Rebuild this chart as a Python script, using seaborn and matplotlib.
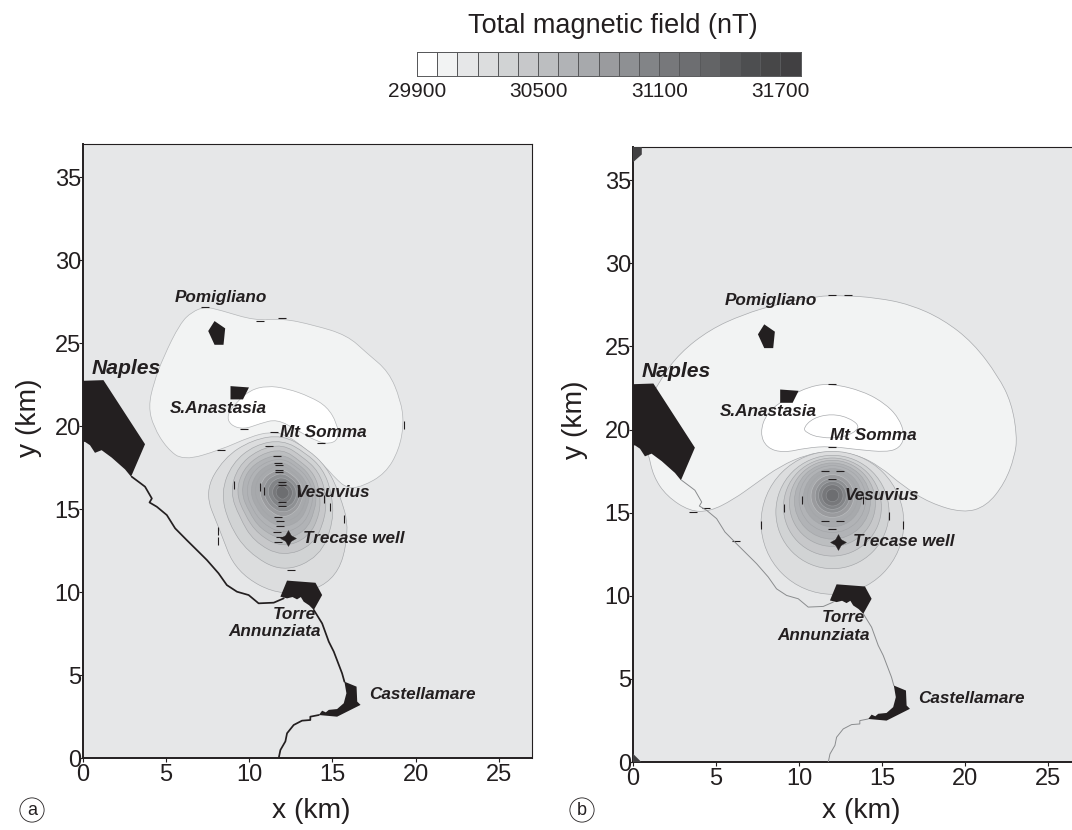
import numpy as np
import matplotlib
matplotlib.use("Agg")
import matplotlib.pyplot as plt
from matplotlib.colors import ListedColormap
from matplotlib.patches import Circle, PathPatch, Polygon
from matplotlib.path import Path
import seaborn as sns

# legend
field_ticks = ["29900", "30500", "31100", "31700"]
field_grays = ["#ffffff", "#f2f3f3", "#e6e7e8", "#dcddde", "#d1d3d4", "#c7c8ca", "#bcbec0",
               "#b1b3b6", "#a7a9ac", "#9a9b9e", "#8e9093", "#828487", "#77787b", "#6d6e71",
               "#636466", "#58595b", "#4d4e50", "#474748", "#414042"]
# legend class of each ring, outermost first
ring_class = [3, 4, 5, 6, 7, 7, 8, 8, 9, 10, 11, 12, 13]

# cities and coast, km
naples = [(0, 22.73), (1.23, 22.77), (3.73, 18.91), (2.89, 16.95), (2.53, 17.39), (1.73, 18.1),
          (1.12, 18.55), (0.72, 18.39), (0.42, 18.85), (0.12, 19.05), (0, 19.05)]
pomigliano = [(7.91, 26.33), (8.55, 25.89), (8.45, 24.9), (7.91, 24.9), (7.53, 25.73)]
anastasia = [(8.87, 22.41), (9.98, 22.33), (9.62, 21.61), (8.87, 21.61)]
torre = [(12.27, 10.69), (13.98, 10.56), (14.38, 9.82), (13.88, 8.92), (13.6, 9.2), (13.27, 9.42), (13.1, 9.7),
         (12.87, 9.56), (12.6, 9.7), (12.27, 9.62), (11.87, 9.72)]
castellamare = [(15.72, 4.6), (16.45, 4.3), (16.49, 3.4), (16.69, 3.2), (15.28, 2.49), (14.18, 2.59),
                (14.38, 2.85), (14.6, 2.75), (14.78, 2.9), (15.28, 2.95), (15.68, 3.3), (15.84, 3.9)]
coast_north_x = [2.93, 3.4, 3.73, 4.14, 4.0, 4.44, 5.04, 5.54, 6.24, 7.25, 7.45, 8.15, 8.65, 9.26, 9.96, 10.56, 11.47, 12.07]
coast_north_y = [16.95, 16.6, 16.35, 15.64, 15.4, 15.14, 14.64, 13.84, 13.13, 12.13, 11.93, 11.13, 10.42, 10.02, 9.82, 9.32, 9.36, 9.62]
coast_mid_x = [13.88, 14.38, 14.78, 15.08, 15.58, 15.72]
coast_mid_y = [8.92, 8.11, 7.01, 6.41, 5.1, 4.6]
coast_south_x = [14.18, 13.67, 13.67, 13.17, 12.67, 12.27, 12.17, 11.87, 11.77]
coast_south_y = [2.59, 2.49, 2.29, 2.25, 1.99, 1.49, 1.0, 0.48, 0.0]

# place labels: text, x, y, size
place_names = ["Pomigliano", "Naples", "S.Anastasia", "Mt Somma", "Vesuvius", "Trecase well",
               "Torre", "Annunziata", "Castellamare"]
place_x = [8.3, 2.6, 8.13, 14.46, 15.0, 16.3, 12.7, 11.5, 20.42]
place_y = [27.77, 23.5, 21.08, 19.64, 16.02, 13.25, 8.67, 7.6, 3.8]
place_size = [12.3, 15.2, 12.3, 12.3, 12.3, 12.3, 12.3, 12.3, 12.3]
well_x = [12.35]
well_y = [13.25]
tick_x = [0, 5, 10, 15, 20, 25]
tick_y = [0, 5, 10, 15, 20, 25, 30, 35]

# panel a contours
crescent_a = [(7.35, 27.19), (8.25, 26.99), (10.36, 26.35), (11.97, 26.49), (13.87, 26.09), (15.88, 25.48),
              (17.09, 24.38), (18.39, 23.28), (19.1, 21.57), (19.3, 20.16), (19.0, 18.56), (18.19, 17.15),
              (16.79, 16.35), (15.88, 16.25), (15.18, 16.85), (14.58, 17.55), (13.47, 18.56), (12.27, 19.46),
              (11.26, 19.66), (10.06, 19.36), (8.25, 18.56), (6.04, 17.91), (5.04, 18.66), (4.24, 19.96),
              (3.94, 21.17), (4.24, 22.57), (4.84, 24.18), (5.84, 26.19), (6.55, 26.89)]
white_a = [(11.06, 22.43), (12.27, 22.27), (13.67, 21.77), (14.68, 21.17), (15.28, 20.16), (15.38, 19.26),
           (14.88, 18.92), (14.08, 19.06), (12.87, 19.76), (11.67, 20.42), (10.66, 20.16), (9.66, 19.8),
           (8.85, 20.06), (8.65, 20.67), (9.26, 21.47), (10.06, 22.17)]
vent_a = (12.0, 16.02)
ring_angles_a = [0, 30, 60, 90, 120, 150, 180, 210, 240, 270, 300, 330]
ring_radii_a = [
    [3.4, 3.05, 3.0, 3.45, 3.65, 4.1, 4.7, 4.4, 5.6, 6.35, 6.35, 4.7],
    [2.95, 2.8, 2.75, 3.15, 3.3, 3.5, 3.7, 3.75, 4.2, 4.85, 4.5, 3.55],
    [2.6, 2.5, 2.45, 2.9, 2.95, 3.1, 3.15, 3.0, 3.45, 3.9, 3.7, 3.0],
    [2.25, 2.2, 2.15, 2.6, 2.65, 2.75, 2.8, 2.65, 2.95, 3.35, 3.15, 2.6],
    [2.05, 1.95, 1.95, 2.3, 2.35, 2.5, 2.5, 2.35, 2.6, 2.9, 2.75, 2.25],
    [1.85, 1.75, 1.75, 2.05, 2.1, 2.2, 2.2, 2.1, 2.25, 2.5, 2.35, 2.0],
    [1.65, 1.55, 1.55, 1.85, 1.9, 1.95, 1.95, 1.85, 1.95, 2.15, 2.05, 1.75],
    [1.45, 1.35, 1.35, 1.65, 1.65, 1.7, 1.7, 1.6, 1.7, 1.85, 1.75, 1.55],
    [1.25, 1.2, 1.2, 1.4, 1.4, 1.45, 1.4, 1.35, 1.4, 1.55, 1.45, 1.3],
    [1.05, 1.0, 1.0, 1.15, 1.15, 1.2, 1.15, 1.1, 1.15, 1.25, 1.2, 1.1],
    [0.85, 0.8, 0.8, 0.9, 0.9, 0.9, 0.9, 0.85, 0.9, 1.0, 0.95, 0.9],
    [0.62, 0.58, 0.58, 0.62, 0.62, 0.62, 0.62, 0.62, 0.62, 0.72, 0.68, 0.62],
    [0.4, 0.35, 0.35, 0.4, 0.4, 0.4, 0.4, 0.4, 0.4, 0.45, 0.4, 0.4],
]
dash_h_a = [(11.51, 19.66), (11.21, 18.79), (11.67, 18.19), (11.73, 17.79), (11.77, 17.65), (11.81, 17.35),
            (11.81, 17.21), (11.97, 16.64), (11.97, 16.44), (11.97, 15.44), (11.97, 15.18), (11.71, 14.54),
            (11.83, 14.28), (11.87, 13.97), (11.67, 13.63), (11.83, 13.33), (11.71, 13.03), (12.51, 11.32),
            (9.66, 19.8), (8.29, 18.59), (14.32, 19.0), (7.35, 27.2), (10.62, 26.35), (11.97, 26.49)]
dash_v_a = [(9.06, 16.48), (10.66, 16.34), (10.9, 16.08), (12.93, 15.94), (14.52, 15.58), (14.86, 15.1),
            (15.7, 14.42), (8.11, 13.67), (8.09, 13.09), (19.3, 20.06)]

# panel b contours
crescent_b = [(0.92, 18.6), (1.22, 17.19), (2.03, 15.99), (3.43, 15.08), (4.64, 15.08), (6.04, 15.78),
              (7.45, 16.79), (8.85, 17.79), (10.46, 18.5), (11.87, 18.7), (13.47, 18.5), (14.88, 17.79),
              (16.29, 16.59), (17.89, 15.58), (19.9, 14.98), (21.3, 15.38), (22.41, 16.79), (23.01, 18.4),
              (23.15, 19.6), (22.81, 21.61), (22.01, 23.21), (20.5, 25.22), (18.69, 26.63), (16.69, 27.53),
              (14.68, 27.93), (12.67, 28.07), (11.06, 28.03), (8.65, 27.53), (6.65, 26.93), (4.64, 26.02),
              (2.83, 24.62), (1.63, 23.01), (0.62, 21.0), (0.52, 19.6)]
white_b = [(11.97, 22.77), (13.88, 22.31), (15.28, 21.51), (16.08, 20.6), (16.38, 19.6), (16.08, 18.9),
           (15.28, 18.64), (13.47, 18.8), (11.87, 19.0), (10.46, 18.9), (9.06, 18.6), (8.05, 18.9),
           (7.65, 19.8), (8.05, 21.0), (9.26, 21.91), (10.66, 22.61)]
core_b = [(11.97, 20.95), (13.07, 20.7), (13.77, 20.1), (12.67, 19.5), (11.26, 19.5), (10.46, 19.8),
          (10.26, 20.1), (10.86, 20.7)]
ring_x_b = 12.02
ring_y_b = [14.39, 15.04, 15.34, 15.56, 15.70, 15.82, 15.90, 15.96, 16.0, 16.02, 16.04, 16.04, 16.04]
ring_r_b = [4.3, 3.41, 2.95, 2.59, 2.29, 2.01, 1.75, 1.51, 1.29, 1.04, 0.84, 0.64, 0.38]
corner_low_b = [(0, 0), (0.5, 0), (0, 0.5)]
corner_top_b = [(0, 37), (0.53, 37), (0.53, 36.55), (0, 36.08)]
dash_h_b = [(11.97, 28.07), (12.97, 28.07), (11.97, 22.77), (11.97, 18.96), (3.6, 15.04), (4.4, 15.26), (6.2, 13.32),
            (11.6, 17.5), (12.5, 17.5), (11.6, 14.5), (12.5, 14.5), (12.0, 17.0), (12.0, 14.0)]
dash_v_b = [(7.71, 14.28), (16.3, 14.28), (9.08, 15.28), (15.44, 14.78), (10.2, 15.78), (13.85, 15.78)]


def smooth_patch(points, **kwargs):
    # closed quadratic path, the read points act as control points
    pts = np.array(points + [points[0]], dtype=float)
    mids = (pts[:-1] + pts[1:]) / 2
    verts = [mids[-1]]
    codes = [Path.MOVETO]
    for i in range(len(mids)):
        verts += [pts[i], mids[i]]
        codes += [Path.CURVE3, Path.CURVE3]
    return PathPatch(Path(verts, codes), **kwargs)


def ring_colors(i):
    # outer rings have a gray outline, the inner ones a lighter one
    k = ring_class[i]
    line = "#a3a5a8" if k <= 8 else field_grays[k - 3]
    return field_grays[k], line


def draw_places(ax, coast_color, coast_width):
    for poly in [pomigliano, anastasia, naples, torre, castellamare]:
        ax.add_patch(Polygon(poly, closed=True, fc="#231f20", ec="none", zorder=6))
    for xs, ys in [(coast_north_x, coast_north_y), (coast_mid_x, coast_mid_y), (coast_south_x, coast_south_y)]:
        sns.lineplot(x=xs, y=ys, ax=ax, sort=False, estimator=None, color=coast_color,
                     linewidth=coast_width, zorder=5)
    sns.scatterplot(x=well_x, y=well_y, ax=ax, marker=(4, 1, 0), s=130, color="#231f20", linewidth=0.3,
                    edgecolor="#231f20", zorder=7)
    sns.scatterplot(x=well_x, y=well_y, ax=ax, marker="o", s=30, color="#231f20", linewidth=0, zorder=7)
    for name, x, y, size in zip(place_names, place_x, place_y, place_size):
        ax.text(x, y, name, fontsize=size, fontweight="bold", fontstyle="italic", color="#231f20",
                ha="center", va="center", zorder=8)


def draw_dashes(ax, dash_h, dash_v):
    ax.plot(*zip(*dash_h), ls="none", marker="_", ms=6, mew=0.8, color="#231f20", zorder=4)
    ax.plot(*zip(*dash_v), ls="none", marker="|", ms=6, mew=0.8, color="#231f20", zorder=4)


def style_axes(ax, xlabel_xy, ylabel_xy):
    ax.set_xlim(0, 27)
    ax.set_ylim(0, 37)
    ax.set_facecolor(field_grays[2])
    ax.set_xticks(tick_x)
    ax.set_yticks(tick_y)
    ax.tick_params(axis="both", length=3, width=0.8, labelsize=17, color="#231f20", labelcolor="#231f20")
    ax.tick_params(axis="y", pad=-1.5)
    ax.tick_params(axis="x", pad=1.5)
    ax.set_xlabel("x (km)", fontsize=20.3, color="#231f20", va="center")
    ax.set_ylabel("y (km)", fontsize=20.3, color="#231f20", va="center")
    ax.xaxis.set_label_coords(*xlabel_xy)
    ax.yaxis.set_label_coords(*ylabel_xy)
    for side, width in [("left", 1.4), ("bottom", 1.4), ("top", 0.8), ("right", 0.8)]:
        ax.spines[side].set_linewidth(width)
        ax.spines[side].set_color("#231f20")


sns.set_theme(style="ticks")
plt.rcParams["font.family"] = ["Liberation Sans", "DejaVu Sans"]

W, H = 1072, 830
fig = plt.figure(figsize=(W / 100, H / 100), dpi=100, facecolor="white")

# colour key
ax_key = fig.add_axes([417 / W, 1 - 76 / H, 383.5 / W, 24 / H])
sns.heatmap(np.arange(len(field_grays)).reshape(1, -1), ax=ax_key, cbar=False, cmap=ListedColormap(field_grays),
            linewidths=0.7, linecolor="#58595b", xticklabels=False, yticklabels=False)
ax_key.set_xticks([0, 6, 12, 18])
ax_key.set_xticklabels(field_ticks, fontsize=15, color="#231f20", rotation=0)
ax_key.tick_params(axis="x", length=0, pad=4)
ax_key.set_title("Total magnetic field (nT)", fontsize=19.5, color="#231f20", pad=14, x=0.51)
for spine in ax_key.spines.values():
    spine.set_visible(True)
    spine.set_linewidth(0.7)
    spine.set_color("#58595b")

# panel a
ax_a = fig.add_axes([83 / W, 1 - 758 / H, 449 / W, 614 / H])
ax_a.add_patch(smooth_patch(crescent_a, fc=field_grays[1], ec="#b5b7b9", lw=0.5, zorder=1))
ax_a.add_patch(smooth_patch(white_a, fc=field_grays[0], ec="#b5b7b9", lw=0.5, zorder=2))
for i, radii in enumerate(ring_radii_a):
    pts = [(vent_a[0] + r * np.cos(np.radians(a)), vent_a[1] + r * np.sin(np.radians(a)))
           for a, r in zip(ring_angles_a, radii)]
    fill, line = ring_colors(i)
    ax_a.add_patch(smooth_patch(pts, fc=fill, ec=line, lw=0.45, zorder=3))
draw_dashes(ax_a, dash_h_a, dash_v_a)
draw_places(ax_a, "#231f20", 1.25)
style_axes(ax_a, (0.508, -0.086), (-0.121, 0.554))

# panel b, right edge runs past the picture
ax_b = fig.add_axes([633 / W, 1 - 762 / H, 448 / W, 615 / H])
ax_b.add_patch(smooth_patch(crescent_b, fc=field_grays[1], ec="#a9abae", lw=0.5, zorder=1))
ax_b.add_patch(smooth_patch(white_b, fc=field_grays[0], ec="#a9abae", lw=0.5, zorder=2))
ax_b.add_patch(smooth_patch(core_b, fc=field_grays[0], ec="#a9abae", lw=0.5, zorder=2))
for i, (yc, r) in enumerate(zip(ring_y_b, ring_r_b)):
    fill, line = ring_colors(i)
    ax_b.add_patch(Circle((ring_x_b, yc), r, fc=fill, ec=line, lw=0.45, zorder=3))
for corner in [corner_low_b, corner_top_b]:
    ax_b.add_patch(Polygon(corner, closed=True, fc="#414042", ec="none", zorder=4))
draw_dashes(ax_b, dash_h_b, dash_v_b)
draw_places(ax_b, "#8a8c8e", 0.7)
style_axes(ax_b, (0.509, -0.08), (-0.13, 0.556))

# panel tags
for tag, px in [("a", 32), ("b", 582)]:
    fig.text(px / W, 1 - 810 / H, tag, fontsize=13, color="#231f20", ha="center", va="center",
             bbox=dict(boxstyle="circle,pad=0.2", fc="white", ec="#231f20", lw=0.6))

fig.savefig("out.png", dpi=100)
